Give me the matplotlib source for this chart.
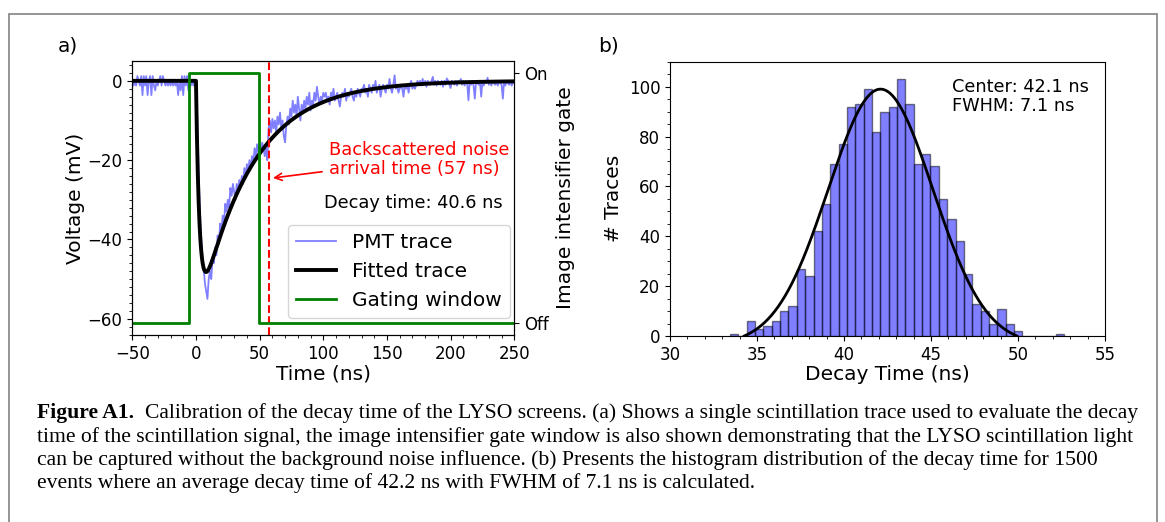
import numpy as np
import matplotlib
matplotlib.use("Agg")
import matplotlib.pyplot as plt
from matplotlib.ticker import MultipleLocator
from matplotlib.patches import Rectangle

# ---------------- Panel a data ----------------
pmt_start_ns = -50          # first sample time, 1 ns sampling
pmt_trace_mv = [
    # t = -50 .. -1
    0, -1.2, 0, -1.2, 1.2, 0, -1.2, 1.2, -3.6, 1.2,
    -1.2, 1.2, -3.6, 0, 1.2, -3.6, 1.2, -1.2, -2.4, 0,
    -1.2, 0, 1.2, -1.2, 1.2, 0, -1.2, 0, -1.2, 0,
    -1.2, 0, -1.2, 0, -1.2, 0, -3.6, 0, -2.4, 1.2,
    -3.6, 1.2, -1.2, 1.2, -2.4, 0, -1.2, 0, -1.2, 0,
    # t = 0 .. 29
    -1.2, -9, -22, -32, -39, -44, -47, -51, -53, -55,
    -50, -48, -50, -45, -46, -42, -44, -39, -41, -36,
    -38, -34, -36, -31, -33, -30, -32, -27, -29, -26,
    # t = 30 .. 56
    -28, -30, -26, -28, -25, -27, -24, -26, -22, -24,
    -21, -23, -20, -22, -19, -21, -17, -19, -16, -18,
    -16, -18, -15.6, -17, -19, -17, -20,
    # t = 57 .. 100
    -12, -10, -13, -9.6, -12, -10, -13, -9, -11, -8,
    -12, -10, -14, -15.5, -11, -9, -11, -7, -9, -5,
    -8, -6, -9, -4, -7, -10, -6, -8, -5, -7,
    -4, -6, -3, -7.5, -5, -6, -3, -5, -1.5, -4,
    -6, -4, -5, -3,
    # t = 101 .. 130
    -4, -3, -5, -4, -6, -3, -4, -2, -5, -4,
    -3, -5, -6.5, -4, -3, -4, -2, -5, -3, -4,
    -3, -2, -4, -5, -3, -4, -2, -3, -4, -2,
    # t = 131 .. 173
    -2, -1, -3, -2, -4, -1, -2, -3, -1, -2,
    0, -3, -2, -1, -4, -2, -1, -2, -3, -1,
    -2, 0.5, -2, -3, -1, 1.4,
    -2, -1, -3, -2, -1, -2, -4, -1, -2, -1,
    -3, -1, 0, -2, -1, -2, -1,
    # t = 174 .. 250
    0, -1, 0, -1.2, 0.5, -1, 0, -1.5, 0, -0.5,
    -1, 0, 1, -1, 0, -1.2, 0, -0.6, -1, 0,
    -1.5, 0, -1, 0.6, 0, -1, -1.8, 0, -0.5, -1,
    0, -1.2, 0, -0.6, 0.5, -1, 0, -1.2, 0, -0.6,
    -4.9, 0, -1, 0, -1.2, -4.5, 0, -0.6, -1, 0,
    -4, 0, -1.2, 0, -0.6, 0.8, -1, 0, -1.2, 0,
    -0.6, -1, 0, -1.2, 0, -0.6, -1, -4.5, 0, -1.2,
    0, -0.6, -1, 0, -1.2, 0, -0.6,
]

# fitted pulse model parameters (bi-exponential)
fit_amplitude_mv = 62.8
fit_decay_ns = 40.6
fit_rise_ns = 2.73
fit_onset_ns = 0.0

# gating window (0 = Off, 1 = On)
gate_time_ns = [-50, -5.5, -5.5, 49.5, 49.5, 250]
gate_state = [0, 0, 1, 1, 0, 0]

noise_arrival_ns = 57
decay_label = "Decay time: 40.6 ns"

# ---------------- Panel b data ----------------
hist_first_edge = 33.45
hist_bin_width = 0.48
hist_counts = [1, 0, 6, 3, 4, 6, 10, 12, 27, 24,
               42, 53, 69, 77, 92, 93, 99, 82, 90, 92,
               103, 93, 69, 73, 68, 55, 47, 38, 25, 13,
               10, 5, 11, 5, 2, 0, 0, 0, 0, 1]
gauss_center = 42.1
gauss_fwhm = 7.1
gauss_amplitude = 102.5
gauss_offset = -3.5

caption_bold = "Figure A1."
caption_lines = [
    "Calibration of the decay time of the LYSO screens. (a) Shows a single scintillation trace used to evaluate the decay",
    "time of the scintillation signal, the image intensifier gate window is also shown demonstrating that the LYSO scintillation light",
    "can be captured without the background noise influence. (b) Presents the histogram distribution of the decay time for 1500",
    "events where an average decay time of 42.2 ns with FWHM of 7.1 ns is calculated.",
]

# ---------------- Figure ----------------
W, H = 1165, 522
fig = plt.figure(figsize=(W / 100, H / 100), dpi=100)

def px_rect(x0, y0, x1, y1):
    return [x0 / W, 1 - y1 / H, (x1 - x0) / W, (y1 - y0) / H]

TICK_FS = 12
LABEL_FS = 14.5
ANN_FS = 12.8

# ---- Panel a ----
ax = fig.add_axes(px_rect(132.3, 61, 514.3, 335))
t = pmt_start_ns + np.arange(len(pmt_trace_mv))
ax.plot(t, pmt_trace_mv, color="blue", alpha=0.5, lw=1.3, label="PMT trace")
tf = np.linspace(-50, 250, 3001)
tt = np.clip(tf - fit_onset_ns, 0, None)
fit = -fit_amplitude_mv * (np.exp(-tt / fit_decay_ns) - np.exp(-tt / fit_rise_ns))
ax.plot(tf, fit, color="black", lw=2.8, label="Fitted trace")
ax.axvline(noise_arrival_ns, color="red", ls="--", lw=1.5)
ax.set_xlim(-50, 250)
ax.set_ylim(-64.1, 5.0)
ax.xaxis.set_major_locator(MultipleLocator(50))
ax.xaxis.set_minor_locator(MultipleLocator(10))
ax.yaxis.set_major_locator(MultipleLocator(20))
ax.yaxis.set_minor_locator(MultipleLocator(2))
ax.tick_params(labelsize=TICK_FS)
ax.set_xlabel("Time (ns)", fontsize=LABEL_FS, labelpad=1)
ax.set_ylabel("Voltage (mV)", fontsize=LABEL_FS, labelpad=2)

ax.annotate("Backscattered noise\narrival time (57 ns)",
            xy=(60.5, -24.5), xytext=(104.5, -19.8),
            color="red", fontsize=ANN_FS, ha="left", va="center",
            linespacing=1.05,
            arrowprops=dict(arrowstyle="->", color="red", lw=1.2,
                            shrinkA=3, shrinkB=0))
ax.text(100.6, -30.8, decay_label, fontsize=ANN_FS, ha="left", va="center")

ax2 = ax.twinx()
ax2.plot(gate_time_ns, gate_state, color="green", lw=2, label="Gating window")
ax2.set_ylim(-0.05, 1.05)
ax2.set_yticks([0, 1])
ax2.set_yticklabels(["Off", "On"])
ax2.tick_params(labelsize=TICK_FS)
ax2.set_ylabel("Image intensifier gate", fontsize=LABEL_FS, labelpad=5)

handles = ax.get_lines()[:2] + ax2.get_lines()[:1]
leg = ax2.legend(handles, [h.get_label() for h in handles],
                 loc="lower right", bbox_to_anchor=(0.9895, 0.062),
                 borderaxespad=0, fontsize=LABEL_FS, framealpha=0.8)

# ---- Panel b ----
bx = fig.add_axes(px_rect(670, 61.7, 1105, 336))
left_edges = hist_first_edge + hist_bin_width * np.arange(len(hist_counts))
bx.bar(left_edges, hist_counts, width=hist_bin_width, align="edge",
       color="blue", alpha=0.5, edgecolor="black", lw=1.0)
sigma = gauss_fwhm / (2 * np.sqrt(2 * np.log(2)))
half = sigma * np.sqrt(2 * np.log(gauss_amplitude / -gauss_offset))
xg = np.linspace(gauss_center - half, gauss_center + half, 400)
yg = gauss_amplitude * np.exp(-(xg - gauss_center) ** 2 / (2 * sigma ** 2)) + gauss_offset
bx.plot(xg, yg, color="black", lw=2)
bx.set_xlim(30, 55)
bx.set_ylim(0, 110)
bx.xaxis.set_major_locator(MultipleLocator(5))
bx.xaxis.set_minor_locator(MultipleLocator(1))
bx.yaxis.set_major_locator(MultipleLocator(20))
bx.yaxis.set_minor_locator(MultipleLocator(5))
bx.tick_params(labelsize=TICK_FS)
bx.set_xlabel("Decay Time (ns)", fontsize=LABEL_FS, labelpad=1)
bx.set_ylabel("# Traces", fontsize=LABEL_FS, labelpad=4)
bx.text(0.649, 0.873, "Center: %.1f ns\nFWHM: %.1f ns" % (gauss_center, gauss_fwhm),
        transform=bx.transAxes, fontsize=ANN_FS, ha="left", va="center",
        linespacing=1.05)

# panel letters
fig.text(58 / W, 1 - 46 / H, "a)", fontsize=LABEL_FS, ha="left", va="center")
fig.text(598 / W, 1 - 46 / H, "b)", fontsize=LABEL_FS, ha="left", va="center")

# frame around the figure
fig.add_artist(Rectangle((9 / W, -0.05), (1157 - 9) / W, 1.05 - 14 / H,
                         transform=fig.transFigure, fill=False,
                         edgecolor="#8c8c8c", lw=1.3, clip_on=False))

# caption (serif)
serif = ["Liberation Serif", "DejaVu Serif"]
renderer = fig.canvas.get_renderer()
cap_x0 = 37
line1_end = 1139
line_y = [413, 437, 460, 483]
fs = 12.0
tb = fig.text(cap_x0 / W, 1 - line_y[0] / H, caption_bold + "  ", family=serif,
              fontweight="bold", fontsize=fs, va="center", ha="left")
tl = fig.text(0, 0, caption_lines[0], family=serif, fontsize=fs, va="center", ha="left")
wb = tb.get_window_extent(renderer).width
wl = tl.get_window_extent(renderer).width
fs = fs * (line1_end - cap_x0) / (wb + wl)
tb.set_fontsize(fs)
tl.set_fontsize(fs)
wb = tb.get_window_extent(renderer).width
tl.set_position(((cap_x0 + wb) / W, 1 - line_y[0] / H))
for i in range(1, 4):
    fig.text(cap_x0 / W, 1 - line_y[i] / H, caption_lines[i], family=serif,
             fontsize=fs, va="center", ha="left")

fig.savefig("out.png", dpi=100)
